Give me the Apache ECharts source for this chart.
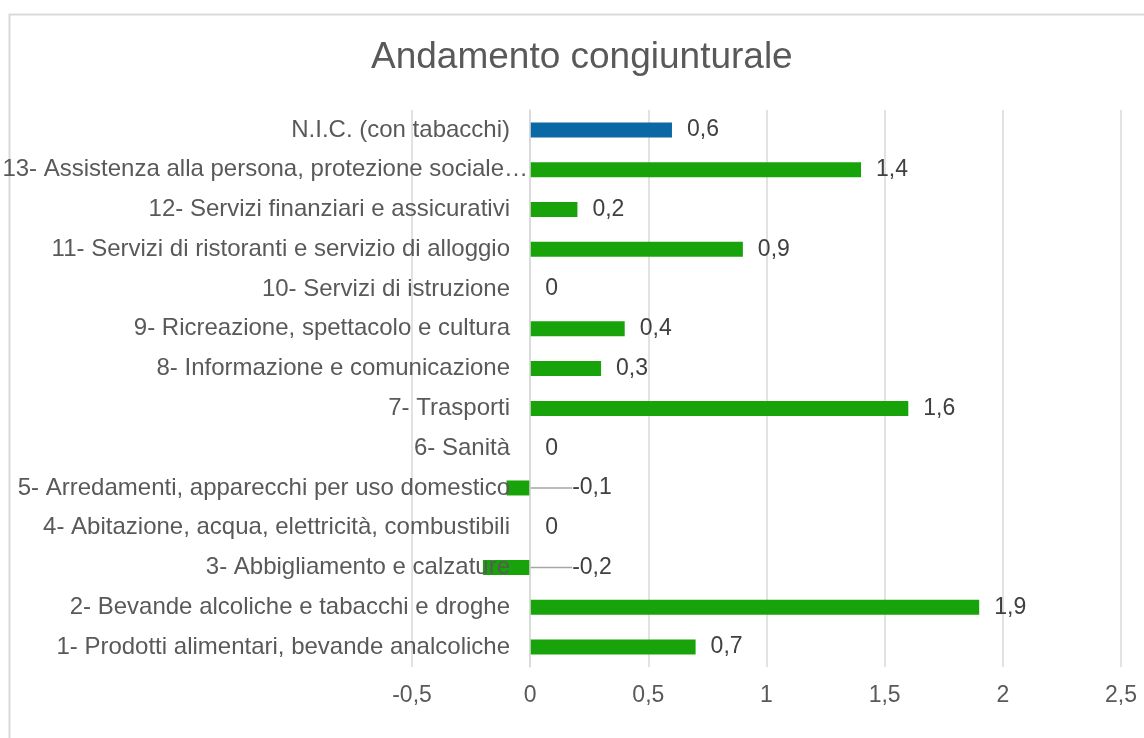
<!DOCTYPE html>
<html>
<head>
<meta charset="utf-8">
<title>Andamento congiunturale</title>
<script src="https://cdn.jsdelivr.net/npm/echarts@6/dist/echarts.min.js"></script>
<style>
    html, body { margin: 0; padding: 0; background: #fff; }
    #chart { width: 1144px; height: 738px; }
</style>
</head>
<body>
<div id="chart"></div>
<script>
// categorie dal basso verso l'alto
var categories = [
    '1- Prodotti alimentari, bevande analcoliche',
    '2- Bevande alcoliche e tabacchi e droghe',
    '3- Abbigliamento e calzature',
    '4- Abitazione, acqua, elettricità, combustibili',
    '5- Arredamenti, apparecchi per uso domestico',
    '6- Sanità',
    '7- Trasporti',
    '8- Informazione e comunicazione',
    '9- Ricreazione, spettacolo e cultura',
    '10- Servizi di istruzione',
    '11- Servizi di ristoranti e servizio di alloggio',
    '12- Servizi finanziari e assicurativi',
    '13- Assistenza alla persona, protezione sociale…',
    'N.I.C. (con tabacchi)'
];
var values = [0.7, 1.9, -0.2, 0, -0.1, 0, 1.6, 0.3, 0.4, 0, 0.9, 0.2, 1.4, 0.6];
var xTicks = [-0.5, 0, 0.5, 1, 1.5, 2, 2.5];

var FONT = "'Liberation Sans', Arial, sans-serif";
var GREEN = '#19A30A';
var BLUE = '#0A68A4';

function fmt(v) {
    return String(v).replace('.', ',');
}

var myChart = echarts.init(document.getElementById('chart'));

var yData = categories.map(function (c) {
    // etichetta troppo lunga: in Excel sporge oltre l'asse
    if (c.indexOf('13-') === 0) {
        return {value: c, textStyle: {padding: [0, -18, 0, 0]}};
    }
    return c;
});

var barData = values.map(function (v, i) {
    var item = {
        value: v,
        itemStyle: {color: i === values.length - 1 ? BLUE : GREEN}
    };
    if (v < 0) {
        item.labelLine = {show: true, lineStyle: {color: '#A6A6A6', width: 1.5}};
    }
    return item;
});

var option = {
    backgroundColor: '#fff',
    animation: false,
    title: {
        text: 'Andamento congiunturale',
        left: 366,
        top: 34,
        textStyle: {
            fontFamily: FONT,
            fontSize: 37,
            fontWeight: 'normal',
            color: '#595959'
        }
    },
    graphic: [{
        type: 'rect',
        shape: {x: 9.5, y: 14.5, width: 1300, height: 900},
        style: {fill: 'none', stroke: '#D9D9D9', lineWidth: 2},
        silent: true
    }],
    grid: {
        left: 412,
        right: 23,
        top: 110,
        bottom: 71,
        outerBoundsMode: 'none'
    },
    xAxis: {
        type: 'value',
        min: xTicks[0],
        max: xTicks[xTicks.length - 1],
        interval: 0.5,
        axisLine: {show: false},
        axisTick: {show: false},
        splitLine: {lineStyle: {color: '#D9D9D9', width: 1.5}},
        axisLabel: {
            margin: 17,
            fontFamily: FONT,
            fontSize: 23,
            color: '#595959',
            formatter: fmt
        }
    },
    yAxis: {
        type: 'category',
        data: yData,
        offset: -118,   // asse categorie sullo zero
        z: 3,           // etichette sopra le barre negative
        axisLine: {show: true, lineStyle: {color: '#D9D9D9', width: 1.5}},
        axisTick: {show: false},
        splitLine: {show: false},
        axisLabel: {
            interval: 0,
            margin: 20,
            fontFamily: FONT,
            fontSize: 24,
            color: '#595959'
        }
    },
    series: [{
        type: 'bar',
        barWidth: 15,
        data: barData,
        label: {
            show: true,
            position: 'right',
            distance: 15,
            fontFamily: FONT,
            fontSize: 23,
            color: '#404040',
            formatter: function (p) { return fmt(p.value); }
        },
        labelLayout: function (params) {
            // etichette dei valori negativi spostate a destra con linea guida
            if (values[params.dataIndex] < 0) {
                return {dx: 27};
            }
            return {};
        }
    }]
};
myChart.setOption(option);
</script>
</body>
</html>
